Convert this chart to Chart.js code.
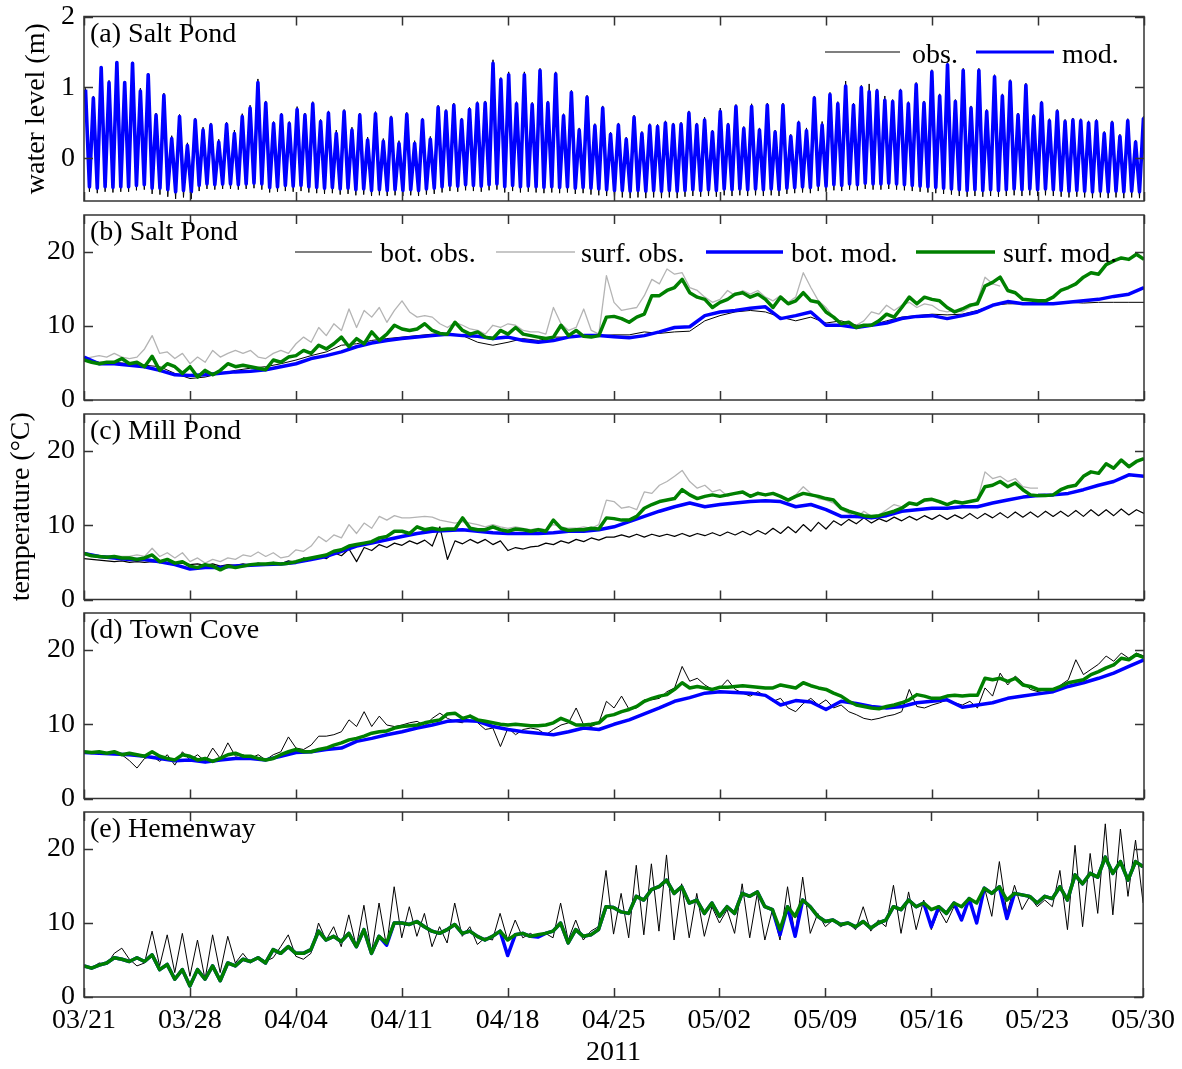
<!DOCTYPE html>
<html>
<head>
<meta charset="utf-8">
<script src="https://cdn.jsdelivr.net/npm/chart.js@4.4.1/dist/chart.umd.min.js"></script>
<style>
  html, body { margin: 0; padding: 0; background: #ffffff; }
  #wrap { position: relative; width: 1182px; height: 1069px; overflow: hidden; background: #ffffff; }
  #wrap canvas { position: absolute; left: 0; }
</style>
</head>
<body>
<div id="wrap"></div>
<script>
// ---------- time axis ----------
const dateTickDays = [0, 7, 14, 21, 28, 35, 42, 49, 56, 63, 70];
const dateTickLabels = ['03/21', '03/28', '04/04', '04/11', '04/18', '04/25', '05/02', '05/09', '05/16', '05/23', '05/30'];
const yearLabel = '2011';

// ---------- (a) Salt Pond water level: high / low water of each tidal cycle (m) ----------
const firstHighTideDay = 0.1;
const tidalCycleDays = 0.5175;
const saltLevelModHigh = [
  0.97,0.85,1.28,1.07,1.35,1.07,1.34,0.95,1.18,0.61,0.89,0.28,0.59,0.18,0.54,0.40,0.47,0.23,0.48,0.35,0.59,0.71,1.07,
  0.78,0.49,0.61,0.49,0.69,0.61,0.77,0.52,0.64,0.35,0.66,0.40,0.61,0.26,0.63,0.24,0.57,0.21,0.62,0.21,0.54,0.27,0.72,
  0.66,0.75,0.54,0.69,0.77,0.78,1.34,1.11,1.18,0.77,1.18,0.76,1.24,0.78,1.19,0.60,0.93,0.40,0.86,0.46,0.71,0.34,0.47,
  0.27,0.58,0.35,0.46,0.45,0.50,0.47,0.48,0.64,0.47,0.54,0.37,0.66,0.47,0.73,0.42,0.73,0.40,0.75,0.37,0.75,0.31,
  0.50,0.39,0.85,0.47,0.90,0.77,1.02,0.75,1.00,0.94,0.95,0.82,0.80,0.95,0.77,1.04,0.78,1.22,0.88,1.32,0.80,1.24,0.71,
  1.24,0.66,1.15,0.88,1.08,0.61,1.03,0.59,0.78,0.53,0.66,0.52,0.54,0.53,0.50,0.52,0.35,0.50,0.31,0.53,0.23,0.56
];
const saltLevelModLow = [
  -0.40,-0.42,-0.40,-0.41,-0.40,-0.40,-0.38,-0.37,-0.42,-0.42,-0.44,-0.47,-0.45,-0.47,-0.38,-0.36,-0.37,-0.36,-0.36,-0.37,-0.36,-0.35,-0.36,
  -0.41,-0.40,-0.38,-0.39,-0.38,-0.40,-0.41,-0.42,-0.41,-0.43,-0.42,-0.44,-0.43,-0.45,-0.44,-0.45,-0.44,-0.45,-0.44,-0.45,-0.43,-0.42,-0.40,
  -0.38,-0.39,-0.37,-0.38,-0.39,-0.37,-0.36,-0.40,-0.38,-0.40,-0.39,-0.40,-0.41,-0.40,-0.41,-0.40,-0.42,-0.41,-0.42,-0.43,-0.44,-0.45,-0.45,
  -0.46,-0.45,-0.46,-0.45,-0.46,-0.45,-0.46,-0.45,-0.44,-0.45,-0.44,-0.45,-0.43,-0.44,-0.43,-0.44,-0.43,-0.44,-0.43,-0.44,-0.42,-0.41,
  -0.40,-0.41,-0.38,-0.39,-0.37,-0.38,-0.36,-0.37,-0.35,-0.36,-0.36,-0.35,-0.36,-0.37,-0.38,-0.39,-0.40,-0.41,-0.42,-0.43,-0.44,-0.45,-0.44,
  -0.45,-0.44,-0.45,-0.44,-0.43,-0.44,-0.43,-0.44,-0.43,-0.44,-0.45,-0.46,-0.45,-0.46,-0.47,-0.46,-0.47,-0.46,-0.47,-0.46,-0.47,-0.46
];
const saltLevelObsHigh = [
  0.99,0.88,1.30,1.10,1.37,1.09,1.36,0.99,1.20,0.64,0.92,0.32,0.62,0.22,0.57,0.44,0.50,0.27,0.51,0.40,0.63,0.75,1.12,
  0.81,0.52,0.64,0.52,0.73,0.64,0.80,0.55,0.67,0.40,0.69,0.44,0.64,0.30,0.66,0.28,0.60,0.25,0.65,0.25,0.57,0.31,0.75,
  0.69,0.78,0.57,0.72,0.80,0.81,1.39,1.14,1.22,0.80,1.22,0.79,1.27,0.81,1.22,0.63,0.96,0.43,0.89,0.49,0.74,0.37,0.50,
  0.30,0.61,0.38,0.49,0.48,0.53,0.50,0.51,0.67,0.50,0.58,0.40,0.71,0.50,0.76,0.45,0.77,0.43,0.78,0.40,0.78,0.34,
  0.53,0.43,0.88,0.52,0.93,0.80,1.09,0.78,1.03,1.05,0.98,0.88,0.83,0.98,0.80,1.07,0.81,1.25,0.91,1.35,0.83,1.27,0.74,
  1.27,0.69,1.18,0.91,1.11,0.64,1.06,0.62,0.81,0.56,0.69,0.55,0.57,0.56,0.53,0.55,0.38,0.53,0.34,0.56,0.26,0.59
];
const saltLevelObsLow = [
  -0.47,-0.49,-0.47,-0.48,-0.47,-0.47,-0.45,-0.44,-0.50,-0.51,-0.54,-0.57,-0.55,-0.57,-0.46,-0.43,-0.44,-0.43,-0.43,-0.44,-0.43,-0.42,-0.44,
  -0.48,-0.47,-0.46,-0.47,-0.46,-0.48,-0.49,-0.50,-0.49,-0.51,-0.50,-0.52,-0.51,-0.53,-0.52,-0.53,-0.52,-0.53,-0.52,-0.53,-0.51,-0.50,-0.48,
  -0.46,-0.47,-0.45,-0.46,-0.47,-0.45,-0.44,-0.48,-0.46,-0.48,-0.47,-0.48,-0.49,-0.48,-0.49,-0.48,-0.50,-0.49,-0.51,-0.52,-0.53,-0.55,-0.55,
  -0.56,-0.55,-0.56,-0.55,-0.56,-0.55,-0.56,-0.54,-0.53,-0.54,-0.53,-0.54,-0.52,-0.53,-0.52,-0.53,-0.52,-0.53,-0.52,-0.53,-0.50,-0.49,
  -0.48,-0.49,-0.46,-0.47,-0.45,-0.46,-0.44,-0.45,-0.43,-0.44,-0.44,-0.43,-0.44,-0.45,-0.46,-0.47,-0.48,-0.49,-0.50,-0.51,-0.53,-0.54,-0.53,
  -0.54,-0.53,-0.54,-0.53,-0.52,-0.53,-0.52,-0.53,-0.52,-0.53,-0.54,-0.55,-0.54,-0.55,-0.56,-0.55,-0.56,-0.55,-0.56,-0.55,-0.56,-0.55
];

// ---------- temperatures (deg C); half-day series start 03/21 00:00, daily series likewise ----------
// (b) Salt Pond
const saltBotObsDaily = [
  5.6,5.1,5.1,4.9,4.7,4.5,3.6,2.9,3.1,3.6,
  4.0,4.3,4.5,4.9,5.4,6.0,6.5,7.4,7.6,8.05,
  8.3,8.5,8.7,8.9,9.0,8.7,7.8,7.4,7.8,8.3,
  8.05,8.5,8.5,8.7,8.7,8.8,8.8,9.2,9.0,9.2,
  9.3,10.7,11.4,11.9,12.1,11.9,11.2,10.7,11.2,10.4,
  10.7,10.1,10.1,10.7,11.2,11.4,11.6,11.5,11.6,12.1,
  12.8,13.0,13.0,13.0,13.0,13.2,13.1,13.2,13.2,13.2,
  13.2
];
const saltSurfObsHalfDay = [
  5.6,5.8,6.0,5.8,6.3,5.8,5.6,5.8,6.9,8.7,6.3,6.5,5.6,6.3,4.9,5.8,5.1,6.7,5.8,6.3,
  6.7,6.3,6.7,5.8,5.6,6.3,6.7,6.3,7.6,8.5,7.8,9.8,8.7,10.3,9.4,12.3,9.8,12.1,11.2,12.5,
  10.5,12.1,13.4,11.9,11.2,11.4,11.2,10.3,9.8,10.5,10.1,9.6,9.4,8.9,10.1,9.8,10.3,10.1,9.4,9.2,
  9.2,8.9,12.5,10.3,9.4,9.8,12.3,9.4,8.9,16.8,13.2,12.1,12.3,12.5,14.1,16.3,15.7,17.7,17.0,17.2,
  15.2,14.8,13.9,13.2,13.6,14.8,14.1,14.8,14.3,14.8,13.9,13.4,14.1,13.2,13.9,17.2,15.2,13.4,12.5,11.2,
  10.5,10.3,10.1,10.7,11.9,11.6,12.8,12.1,12.8,13.2,12.5,13.0,12.8,12.1,11.9,12.1,11.9,12.5,13.4,16.6,
  15.7,15.4,null,null,null,null,null,null,null,null,null,null,null,null,null,null,null,null,null,null,
  null
];
const saltBotModDaily = [
  5.8,4.9,4.9,4.7,4.5,4.0,3.4,3.3,3.4,3.6,
  3.8,3.9,4.1,4.5,4.9,5.6,6.0,6.5,7.2,7.7,
  8.05,8.3,8.5,8.7,8.9,8.7,8.6,8.3,8.5,8.05,
  7.8,8.05,8.5,8.7,8.7,8.55,8.4,8.7,9.2,9.8,
  9.9,11.4,11.9,12.1,12.4,12.6,11.0,11.4,11.9,10.1,
  10.1,9.8,10.1,10.4,11.0,11.3,11.4,11.0,11.4,11.9,
  12.8,13.3,13.0,13.0,13.0,13.2,13.4,13.6,14.0,14.3,
  15.2
];
const saltSurfModHalfDay = [
  5.4,5.1,4.9,5.1,5.1,5.6,4.9,5.1,4.5,5.9,4.0,4.9,4.5,3.6,4.5,3.1,4.0,3.4,4.0,4.9,
  4.5,4.7,4.5,4.3,4.1,5.4,5.1,5.8,6.0,6.7,6.3,7.4,6.9,7.6,8.5,7.2,8.3,7.6,9.2,8.05,
  8.9,10.1,9.6,9.4,9.6,10.3,9.4,9.0,8.9,10.5,9.4,8.9,9.2,8.5,8.3,9.4,8.9,9.8,8.9,8.7,
  8.5,8.3,8.5,10.1,8.7,9.4,8.6,8.5,8.7,11.2,11.3,11.0,10.5,11.2,11.6,14.1,14.1,14.8,15.2,16.3,
  14.5,13.9,13.6,12.5,13.2,13.6,14.3,14.5,13.9,14.3,13.6,12.5,13.9,13.0,13.4,14.5,13.4,13.2,11.9,11.2,
  10.3,10.5,9.8,10.1,10.1,10.7,11.6,11.2,12.5,13.9,13.0,13.9,13.6,13.4,12.5,11.9,12.3,12.8,13.0,15.4,
  15.9,16.6,14.8,14.5,13.6,13.5,13.4,13.4,13.9,14.8,15.2,15.7,16.6,17.2,17.0,18.3,18.8,19.2,19.0,19.7,
  19.0
];

// (c) Mill Pond
const millBotObsHalfDay = [
  5.5,5.4,5.3,5.2,5.1,5.2,5.0,5.1,5.0,5.1,5.0,4.9,4.8,4.9,4.7,4.8,4.6,4.8,4.5,4.7,
  4.6,4.8,4.6,4.9,4.7,5.0,4.8,5.2,5.0,5.6,5.3,5.9,5.5,6.3,5.9,6.8,5.1,7.0,6.6,7.4,
  7.0,7.6,7.3,7.9,7.5,8.0,7.2,9.8,5.4,7.9,7.5,8.1,7.6,8.1,7.4,7.9,6.6,7.0,6.8,7.1,
  7.2,7.6,7.4,7.9,7.6,8.1,7.8,8.3,8.0,8.4,8.4,8.7,8.4,8.8,8.4,8.8,8.5,8.8,8.5,8.9,
  8.5,8.9,8.6,9.0,8.6,9.1,8.7,9.2,8.7,9.3,8.8,9.6,8.9,9.8,9.0,10.1,9.2,10.4,9.5,10.6,
  10.0,10.8,10.2,11.0,10.3,10.9,10.5,11.1,10.6,11.2,10.7,11.3,10.8,11.4,10.8,11.4,10.9,11.6,10.9,11.6,
  11.0,11.7,11.0,11.8,11.1,11.8,11.1,11.9,11.2,11.9,11.2,12.0,11.2,12.1,11.3,12.1,11.3,12.2,11.4,12.1,
  11.6
];
const millSurfObsHalfDay = [
  6.3,6.1,5.9,5.9,5.8,5.8,5.8,6.0,5.8,6.9,5.8,6.3,5.6,6.3,5.1,5.6,4.9,5.4,5.1,5.6,
  5.4,6.0,5.8,6.4,5.8,6.3,5.6,5.8,6.7,6.5,7.2,8.5,7.8,8.7,8.3,10.1,8.9,10.3,9.6,11.2,
  10.7,11.3,11.0,11.0,11.1,11.2,11.1,10.7,10.5,10.3,10.5,10.3,10.1,9.8,10.1,9.8,9.6,9.8,9.6,9.4,
  9.6,9.4,10.1,9.8,9.6,9.6,9.8,9.6,10.1,13.4,13.2,12.3,12.5,12.1,14.5,14.3,15.4,15.9,16.6,17.4,
  15.9,15.0,15.4,14.5,14.8,13.9,14.3,14.3,13.9,14.5,14.1,14.3,13.9,13.4,14.1,15.2,14.3,13.6,13.4,13.0,
  12.1,11.6,11.0,11.9,11.2,11.4,12.1,12.8,12.5,13.0,12.8,13.2,13.4,13.0,12.8,13.0,13.0,13.2,13.4,17.2,
  16.3,16.6,15.9,16.3,15.2,15.0,15.0,null,null,null,null,null,null,null,null,null,null,null,null,null,
  null
];
const millBotModDaily = [
  6.2,5.8,5.6,5.4,5.4,5.1,4.7,4.1,4.3,4.3,
  4.5,4.6,4.7,4.8,5.0,5.4,5.8,6.5,7.2,7.6,
  8.05,8.5,8.9,9.2,9.3,9.4,9.2,9.0,8.9,8.9,
  8.9,9.0,9.2,9.2,9.4,9.8,10.5,11.2,11.9,12.5,
  13.0,12.5,12.8,13.0,13.2,13.3,13.2,12.5,12.8,12.1,
  11.2,11.2,11.0,11.3,11.9,12.1,12.3,12.3,12.5,12.5,
  13.0,13.4,13.8,14.0,14.1,14.3,14.8,15.4,15.9,16.8,
  16.6
];
const millSurfModHalfDay = [
  6.2,5.9,5.8,5.7,5.8,5.6,5.6,5.4,5.6,6.0,5.1,5.4,4.9,5.1,4.5,4.3,4.7,4.5,4.0,4.5,
  4.3,4.5,4.7,4.8,4.8,4.9,4.8,4.9,5.1,5.4,5.6,5.8,6.0,6.5,6.7,7.2,7.4,7.6,7.8,8.3,
  8.5,9.2,9.2,8.9,9.8,9.4,9.6,9.4,9.5,9.5,11.0,9.6,9.4,9.4,9.8,9.4,9.2,9.5,9.4,9.2,
  9.4,9.2,10.7,9.6,9.3,9.4,9.4,9.6,9.5,11.0,10.9,10.7,10.7,11.2,12.3,12.8,13.2,13.4,13.6,14.8,
  14.1,13.6,13.9,14.1,13.9,14.1,14.3,14.5,13.9,14.3,14.1,14.3,13.9,13.4,13.9,14.3,14.1,13.9,13.6,13.4,
  12.3,11.9,11.6,11.3,11.2,11.3,11.6,11.9,12.3,13.0,12.8,13.4,13.5,13.2,12.8,13.2,13.0,13.2,13.4,15.2,
  15.4,15.9,15.2,15.7,14.8,14.1,14.0,14.0,14.1,14.8,15.2,15.4,16.6,17.2,17.0,18.3,17.7,18.8,17.9,18.6,
  19.0
];

// (d) Town Cove
const townObsHalfDay = [
  6.3,6.2,6.3,6.1,6.3,5.9,5.1,4.1,5.4,5.7,5.0,5.9,4.5,6.3,5.2,5.9,5.0,6.8,5.4,7.5,
  5.7,5.9,5.4,5.9,5.2,5.9,6.3,8.3,6.8,6.6,7.2,8.4,8.4,8.6,9.0,10.6,9.7,11.7,9.7,11.1,
  9.9,9.7,9.9,10.2,10.4,9.8,10.8,11.5,10.8,10.4,10.2,11.3,10.2,9.3,9.5,7.0,9.5,8.6,9.3,9.5,
  9.3,8.6,9.3,9.9,10.2,12.2,9.9,9.7,10.2,13.1,12.2,13.8,12.0,12.2,13.3,13.3,13.5,14.4,14.9,17.8,
  15.8,16.2,15.3,14.7,14.9,16.0,14.7,14.2,13.8,14.4,13.8,13.1,13.5,12.2,11.7,12.8,13.5,12.6,13.3,12.2,
  12.6,11.7,11.3,10.8,10.6,10.8,11.1,11.3,11.7,14.7,12.4,12.2,12.6,12.9,13.3,12.9,12.6,13.1,12.2,14.9,
  13.8,16.9,15.3,16.5,15.6,14.7,14.4,14.2,14.4,15.3,16.0,18.7,16.7,17.4,18.1,19.2,18.5,19.6,18.9,19.6,
  19.2
];
const townBotModDaily = [
  6.2,6.1,6.0,5.9,5.7,5.4,5.1,5.2,4.9,5.2,
  5.4,5.4,5.2,5.7,6.2,6.3,6.6,6.8,7.7,8.1,
  8.6,9.0,9.5,9.9,10.4,10.5,10.4,9.7,9.3,9.0,
  8.8,8.6,9.0,9.5,9.3,10.0,10.6,11.4,12.2,13.1,
  13.6,14.2,14.4,14.3,14.2,13.9,12.6,13.2,13.0,12.0,
  13.1,12.8,12.4,12.2,12.4,12.9,13.1,13.3,12.3,12.6,
  12.9,13.5,13.8,14.1,14.4,15.1,15.6,16.2,16.9,17.8,
  18.7
];
const townSurfModHalfDay = [
  6.3,6.2,6.3,6.1,6.3,5.9,6.1,5.9,5.7,6.3,5.7,5.4,5.2,5.9,5.7,5.2,5.4,5.0,5.4,5.9,
  6.1,5.7,5.7,5.4,5.2,5.4,5.9,6.3,6.6,6.3,6.3,6.6,6.8,7.2,7.5,7.9,8.1,8.4,8.8,9.0,
  9.1,9.5,9.7,9.8,9.9,10.2,10.4,10.6,11.4,11.5,10.8,11.1,10.6,10.4,10.2,10.0,9.9,10.0,9.9,9.8,
  9.8,9.9,10.2,10.8,10.4,9.9,9.9,10.0,10.2,11.1,11.3,11.7,12.0,12.4,13.1,13.5,13.8,14.0,14.7,15.6,
  14.9,15.1,14.9,14.7,15.0,15.0,15.1,15.2,15.1,15.0,14.9,14.9,15.3,15.1,14.9,15.6,15.2,14.9,14.7,14.2,
  13.8,13.1,12.6,12.4,12.2,12.1,12.4,12.6,12.9,13.3,14.0,13.8,13.5,13.5,13.8,13.9,13.8,13.9,13.9,16.2,
  16.0,16.2,15.8,16.2,15.3,15.1,14.7,14.7,14.7,15.1,15.6,15.8,16.0,16.7,17.1,17.6,18.0,18.9,18.7,19.4,
  19.0
];

// (e) Hemenway
const hemObsHalfDay = [
  4.2,3.9,4.6,4.4,5.9,6.6,5.1,4.2,4.6,8.9,4.2,8.4,3.3,8.6,2.8,7.7,2.4,8.4,3.3,8.2,
  4.6,5.9,4.6,5.5,4.8,5.3,6.8,8.4,5.5,5.1,5.9,10.0,7.7,9.5,6.8,11.1,6.8,12.4,5.9,12.7,
  6.8,14.9,8.0,12.2,8.2,11.3,6.8,9.5,7.3,12.7,8.2,9.5,7.1,8.0,7.7,11.3,7.7,10.4,8.0,8.6,
  8.0,8.6,8.0,12.7,7.7,10.4,7.7,8.9,9.5,17.1,8.5,14.0,8.0,17.8,8.4,18.0,8.9,19.2,7.7,15.3,
  8.0,14.0,8.2,12.2,10.0,11.8,8.6,15.3,8.0,14.0,7.7,11.8,7.7,14.9,8.2,16.2,8.6,11.3,9.5,10.4,
  9.5,10.0,9.1,12.2,8.9,10.4,9.5,15.1,8.6,14.2,9.1,13.1,9.1,11.8,10.0,12.2,10.9,12.9,10.2,14.9,
  10.9,18.3,11.3,15.1,11.8,13.6,12.2,13.1,12.2,17.1,9.1,20.5,9.5,19.4,11.3,23.4,11.1,22.7,13.6,21.2,
  12.7
];
const hemBotModHalfDay = [
  4.2,3.9,4.3,4.6,5.3,5.1,4.8,5.3,4.8,5.7,3.7,4.4,2.4,3.7,1.5,3.7,2.4,4.2,2.2,4.6,
  4.2,5.1,4.8,5.3,4.6,6.4,5.9,6.8,5.9,5.9,6.4,8.9,7.7,8.2,7.5,8.6,6.8,9.1,5.9,8.2,
  7.0,10.0,10.0,9.8,10.2,9.5,8.9,8.6,9.1,9.8,8.6,8.9,8.2,7.7,8.2,8.9,5.6,8.4,8.6,8.2,
  8.1,8.6,8.9,10.0,7.3,9.1,8.2,8.4,9.1,12.2,12.1,11.5,11.3,13.6,13.1,14.5,14.9,15.8,14.0,14.9,
  12.7,13.1,11.3,12.7,10.9,12.2,11.3,14.0,13.6,14.2,12.2,11.8,8.4,12.2,8.2,13.1,12.2,10.9,10.2,10.4,
  9.8,10.0,9.5,10.2,9.3,10.0,10.4,12.2,11.8,13.1,12.2,12.7,9.5,12.2,11.3,12.7,10.4,13.3,10.0,14.7,
  14.0,14.9,10.6,14.0,13.8,13.6,12.7,13.6,13.3,14.9,13.1,16.5,15.3,16.7,16.2,18.9,16.7,18.3,15.8,18.3,
  17.6
];
const hemSurfModHalfDay = [
  4.2,3.9,4.3,4.6,5.3,5.1,4.8,5.3,4.8,5.7,3.7,4.4,2.4,3.7,1.5,3.7,2.4,4.2,2.2,4.6,
  4.2,5.1,4.8,5.3,4.6,6.4,5.9,6.8,5.9,5.9,6.4,8.9,7.7,8.2,7.5,8.6,6.8,9.1,5.9,8.2,
  7.3,10.0,10.0,9.8,10.2,9.5,8.9,8.6,9.1,9.8,8.6,8.9,8.2,7.7,8.2,8.9,7.7,8.4,8.6,8.2,
  8.4,8.6,8.9,10.0,7.3,9.1,8.2,8.4,9.1,12.2,12.1,11.5,11.3,13.6,13.1,14.5,14.9,15.8,14.0,14.9,
  12.7,13.1,11.3,12.7,10.9,12.2,11.3,14.0,13.6,14.2,12.2,11.8,9.1,12.2,10.9,13.1,12.2,10.9,10.2,10.4,
  9.8,10.0,9.5,10.2,9.3,10.0,10.4,12.2,11.8,13.1,12.2,12.7,11.8,12.2,11.3,12.7,12.2,13.3,12.7,14.7,
  14.0,14.9,13.1,14.0,13.8,13.6,12.7,13.6,13.3,14.9,13.1,16.5,15.3,16.7,16.2,18.9,16.7,18.3,15.8,18.3,
  17.6
];

// ---------- styling ----------
const SERIF = '"Liberation Serif", "Times New Roman", Times, serif';
const TEXT_SIZE = 28;
const INK = '#000000';
const FRAME = '#333333';
const OBS = '#000000';
const SURF_OBS = '#b4b4b4';
const BOT_MOD = '#0000ff';
const SURF_MOD = '#008000';
const PAGE_W = 1182, PAGE_H = 1069;
const PLOT_LEFT = 84, PLOT_RIGHT = 1144;
const CANVAS_MARGIN = 32;

// sample grids
const halfDayTimes = Array.from({ length: 141 }, (_, i) => i * 0.5);
const dailyTimes = Array.from({ length: 71 }, (_, i) => i);

function toPoints(times, values) {
  const pts = [];
  values.forEach((v, i) => { if (v !== null) pts.push({ x: times[i], y: v }); });
  return pts;
}
// high water then the following low water for each cycle
function tidePoints(highs, lows) {
  const pts = [];
  highs.forEach((h, k) => {
    const t = firstHighTideDay + k * tidalCycleDays;
    pts.push({ x: t, y: h });
    pts.push({ x: t + tidalCycleDays / 2, y: lows[k] });
  });
  return pts;
}
function line(label, data, color, width, order) {
  return { label, data, borderColor: color, backgroundColor: color, borderWidth: width, order,
           pointRadius: 0, pointHoverRadius: 0, fill: false, tension: 0,
           borderJoinStyle: 'round', borderCapStyle: 'butt' };
}

const panels = [
  {
    plotTop: 16.5, plotBottom: 201, yMin: -0.6, yMax: 2, yTicks: [0, 1, 2],
    label: '(a) Salt Pond', yTitle: 'water level (m)', yTitleGap: 20,
    datasets: [
      line('obs.', tidePoints(saltLevelObsHigh, saltLevelObsLow), OBS, 1, 1),
      line('mod.', tidePoints(saltLevelModHigh, saltLevelModLow), BOT_MOD, 3.6, 0)
    ],
    legend: { lineDy: 35.5, textDy: 46.5, items: [
      { text: 'obs.', color: OBS, width: 1.2, x0: 825, x1: 900, tx: 912 },
      { text: 'mod.', color: BOT_MOD, width: 3, x0: 976, x1: 1054, tx: 1062 }
    ] }
  },
  {
    plotTop: 215, plotBottom: 400, yMin: 0, yMax: 25, yTicks: [0, 10, 20],
    label: '(b) Salt Pond',
    datasets: [
      line('bot. obs.', toPoints(dailyTimes, saltBotObsDaily), OBS, 1, 2),
      line('surf. obs.', toPoints(halfDayTimes, saltSurfObsHalfDay), SURF_OBS, 1.3, 3),
      line('bot. mod.', toPoints(dailyTimes, saltBotModDaily), BOT_MOD, 3.5, 1),
      line('surf. mod.', toPoints(halfDayTimes, saltSurfModHalfDay), SURF_MOD, 3.5, 0)
    ],
    legend: { lineDy: 37, textDy: 47, items: [
      { text: 'bot. obs.', color: OBS, width: 1.2, x0: 295, x1: 372, tx: 380 },
      { text: 'surf. obs.', color: SURF_OBS, width: 1.3, x0: 496, x1: 575, tx: 581 },
      { text: 'bot. mod.', color: BOT_MOD, width: 3.5, x0: 706, x1: 783, tx: 791 },
      { text: 'surf. mod.', color: SURF_MOD, width: 3.5, x0: 916, x1: 995, tx: 1003 }
    ] }
  },
  {
    plotTop: 414, plotBottom: 599.5, yMin: 0, yMax: 25, yTicks: [0, 10, 20],
    label: '(c) Mill Pond', yTitle: 'temperature (\u00B0C)', yTitleGap: 5,
    datasets: [
      line('bot. obs.', toPoints(halfDayTimes, millBotObsHalfDay), OBS, 1.2, 2),
      line('surf. obs.', toPoints(halfDayTimes, millSurfObsHalfDay), SURF_OBS, 1.3, 3),
      line('bot. mod.', toPoints(dailyTimes, millBotModDaily), BOT_MOD, 3.5, 1),
      line('surf. mod.', toPoints(halfDayTimes, millSurfModHalfDay), SURF_MOD, 3.5, 0)
    ]
  },
  {
    plotTop: 613, plotBottom: 798.5, yMin: 0, yMax: 25, yTicks: [0, 10, 20],
    label: '(d) Town Cove',
    datasets: [
      line('obs.', toPoints(halfDayTimes, townObsHalfDay), OBS, 1, 2),
      line('bot. mod.', toPoints(dailyTimes, townBotModDaily), BOT_MOD, 3.5, 1),
      line('surf. mod.', toPoints(halfDayTimes, townSurfModHalfDay), SURF_MOD, 3.5, 0)
    ]
  },
  {
    plotTop: 812, plotBottom: 997, yMin: 0, yMax: 25, yTicks: [0, 10, 20],
    label: '(e) Hemenway',
    datasets: [
      line('obs.', toPoints(halfDayTimes, hemObsHalfDay), OBS, 1, 2),
      line('bot. mod.', toPoints(halfDayTimes, hemBotModHalfDay), BOT_MOD, 3.5, 1),
      line('surf. mod.', toPoints(halfDayTimes, hemSurfModHalfDay), SURF_MOD, 3.5, 0)
    ]
  }
];

// box, inward tick marks, panel tag and in-plot legend
const panelFrame = {
  id: 'panelFrame',
  afterDraw(chart, args, opts) {
    const { ctx, chartArea: { left, right, top, bottom }, scales: { x, y } } = chart;
    ctx.save();
    ctx.strokeStyle = FRAME;
    ctx.lineWidth = 1.5;
    ctx.strokeRect(left, top, right - left, bottom - top);
    const L = 9;
    ctx.beginPath();
    dateTickDays.forEach(d => {
      const px = Math.round(x.getPixelForValue(d)) + 0.5;
      ctx.moveTo(px, bottom); ctx.lineTo(px, bottom - L);
      ctx.moveTo(px, top); ctx.lineTo(px, top + L);
    });
    opts.yTicks.forEach(v => {
      const py = Math.round(y.getPixelForValue(v)) + 0.5;
      ctx.moveTo(left, py); ctx.lineTo(left + L, py);
      ctx.moveTo(right, py); ctx.lineTo(right - L, py);
    });
    ctx.stroke();

    ctx.fillStyle = INK;
    ctx.font = TEXT_SIZE + 'px ' + SERIF;
    ctx.textAlign = 'left';
    ctx.textBaseline = 'alphabetic';
    ctx.fillText(opts.label, left + 6, top + 25);

    if (opts.legend) {
      const lg = opts.legend;
      lg.items.forEach(it => {
        ctx.strokeStyle = it.color;
        ctx.lineWidth = it.width;
        ctx.beginPath();
        ctx.moveTo(it.x0, top + lg.lineDy);
        ctx.lineTo(it.x1, top + lg.lineDy);
        ctx.stroke();
        ctx.fillStyle = INK;
        ctx.fillText(it.text, it.tx, top + lg.textDy);
      });
    }
    ctx.restore();
  }
};

const wrap = document.getElementById('wrap');
panels.forEach((p, i) => {
  const last = i === panels.length - 1;
  const cTop = Math.floor(p.plotTop - CANVAS_MARGIN);
  const cBottom = last ? PAGE_H : Math.ceil(p.plotBottom + CANVAS_MARGIN);
  const cv = document.createElement('canvas');
  cv.width = PAGE_W;
  cv.height = cBottom - cTop;
  cv.style.top = cTop + 'px';
  cv.style.width = PAGE_W + 'px';
  cv.style.height = (cBottom - cTop) + 'px';
  wrap.appendChild(cv);

  const font = { family: SERIF, size: TEXT_SIZE };
  new Chart(cv, {
    type: 'line',
    data: { datasets: p.datasets },
    options: {
      responsive: false,
      animation: false,
      devicePixelRatio: 1,
      events: [],
      layout: { padding: { left: 0, right: PAGE_W - PLOT_RIGHT, top: p.plotTop - cTop, bottom: last ? 0 : cBottom - p.plotBottom } },
      plugins: {
        legend: { display: false },
        tooltip: { enabled: false },
        panelFrame: { yTicks: p.yTicks, label: p.label, legend: p.legend }
      },
      scales: {
        x: {
          type: 'linear', min: 0, max: 70, display: last,
          afterBuildTicks: s => { s.ticks = dateTickDays.map(v => ({ value: v })); },
          afterFit: s => { if (last) s.height = PAGE_H - p.plotBottom; },
          grid: { display: false, drawTicks: false },
          border: { display: false },
          ticks: { font, color: INK, padding: 7, maxRotation: 0, autoSkip: false,
                   callback: v => dateTickLabels[dateTickDays.indexOf(v)] },
          title: { display: last, text: yearLabel, font, color: INK, padding: { top: 0, bottom: 0 } }
        },
        y: {
          type: 'linear', min: p.yMin, max: p.yMax,
          afterBuildTicks: s => { s.ticks = p.yTicks.map(v => ({ value: v })); },
          afterFit: s => { s.width = PLOT_LEFT; },
          grid: { display: false, drawTicks: false },
          border: { display: false },
          ticks: { font, color: INK, padding: 9, callback: v => String(v) },
          title: { display: !!p.yTitle, text: p.yTitle || '', font, color: INK,
                   padding: { top: p.yTitleGap || 0, bottom: 0 } }
        }
      }
    },
    plugins: [panelFrame]
  });
});
</script>
</body>
</html>
